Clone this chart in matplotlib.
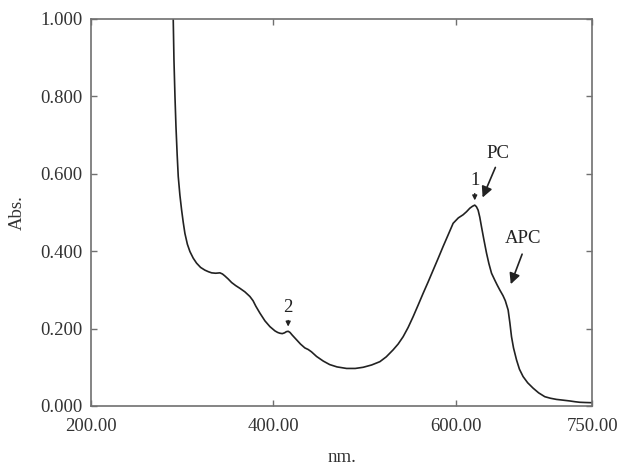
import numpy as np
import matplotlib.pyplot as plt

# ====== DATA ======
wavelength = [290.0, 290.5, 291.3, 292.4, 293.5, 294.8, 296, 297.8, 299.7, 301.5, 303.3,
              306, 308.8, 312.4, 316.1, 320.5, 325.2, 329, 332.6, 337, 341.7, 344.5,
              347.1, 350.8, 354.5, 359, 363.6, 369, 374.5, 378, 381, 385.5, 391, 396.5,
              402, 405, 407.4, 410, 412.5, 414.5, 416.5, 418.5, 421, 425.7, 430, 434.8,
              438.4, 442, 447.6, 455, 462, 470, 480.5, 490, 498.7, 508, 517, 524,
              531.5, 537, 542.5, 548, 553.5, 559, 564.4, 570, 575.4, 581, 586.3, 592,
              597.3, 603, 608.2, 612, 615.6, 618.5, 621, 622.8, 624.7, 626.5, 628.4,
              631, 633.9, 636.5, 639.4, 643, 645.5, 648.4, 652, 654.5, 657.6, 659.5,
              661.3, 663.5, 666.8, 670, 674, 679, 685, 691, 697.8, 704, 710.6, 718,
              725.2, 731, 736, 742, 749, 750]
absorbance = [1.04, 1.0, 0.894, 0.80, 0.722, 0.65, 0.593, 0.545, 0.506, 0.474, 0.446,
              0.418, 0.399, 0.382, 0.369, 0.358, 0.351, 0.347, 0.344, 0.343, 0.344, 0.341,
              0.336, 0.328, 0.319, 0.311, 0.304, 0.295, 0.283, 0.272, 0.258, 0.240, 0.220, 0.205,
              0.194, 0.190, 0.188, 0.187, 0.189, 0.192, 0.193, 0.190, 0.183, 0.171, 0.160, 0.150,
              0.146, 0.140, 0.128, 0.116, 0.107, 0.101, 0.097, 0.097, 0.100, 0.106, 0.1145, 0.127,
              0.145, 0.160, 0.179, 0.203, 0.231, 0.261, 0.291, 0.321, 0.351, 0.382, 0.412, 0.443,
              0.472, 0.486, 0.494, 0.502, 0.511, 0.516, 0.519, 0.515, 0.506, 0.488, 0.463,
              0.430, 0.395, 0.368, 0.343, 0.325, 0.313, 0.300, 0.285, 0.272, 0.248, 0.215,
              0.179, 0.150, 0.119, 0.095, 0.076, 0.060, 0.046, 0.034, 0.024, 0.020, 0.017, 0.015,
              0.013, 0.011, 0.0096, 0.009, 0.0085, 0.0085]

x_ticks = [200, 400, 600, 750]
x_tick_labels = ["200.00", "400.00", "600.00", "750.00"]
y_ticks = [0.0, 0.2, 0.4, 0.6, 0.8, 1.0]
y_tick_labels = ["0.000", "0.200", "0.400", "0.600", "0.800", "1.000"]

# ====== FIGURE ======
plt.rcParams['font.family'] = ['Liberation Serif', 'DejaVu Serif']

fig = plt.figure(figsize=(6.21, 4.68), dpi=100)
ax = fig.add_axes([0.146, 0.1325, 0.808, 0.827])

ax.plot(wavelength, absorbance, color='#222222', linewidth=1.2)

ax.set_xlim(200, 750)
ax.set_ylim(0, 1.0)
ax.set_xticks(x_ticks)
ax.set_xticklabels(x_tick_labels)
ax.set_yticks(y_ticks)
ax.set_yticklabels(y_tick_labels)

for side in ax.spines.values():
    side.set_color('#707070')
    side.set_linewidth(1.2)

ax.tick_params(direction='in', length=4, width=1, color='#707070',
               top=True, right=True, labelsize=13.5, colors='#333333')
ax.tick_params(axis='x', pad=9)
ax.tick_params(axis='y', pad=6)

ax.set_xlabel('nm.', fontsize=13.5, color='#333333', labelpad=10)
ax.set_ylabel('Abs.', fontsize=13.5, color='#333333', labelpad=10)

# ====== ANNOTATIONS ======
arrow_small = dict(arrowstyle='-|>', color='#222222', lw=1, mutation_scale=7)
arrow_big = dict(arrowstyle='-|>', color='#222222', lw=1.2, mutation_scale=16)

ax.annotate('', xy=(416.5, 0.198), xytext=(416.5, 0.228), arrowprops=arrow_small)
ax.text(416.5, 0.232, '2', ha='center', va='bottom', fontsize=13.5, color='#222222')

ax.annotate('', xy=(621, 0.524), xytext=(621, 0.556), arrowprops=arrow_small)
ax.text(621, 0.560, '1', ha='center', va='bottom', fontsize=13.5, color='#222222')

ax.annotate('', xy=(628.4, 0.532), xytext=(644.8, 0.623), arrowprops=arrow_big)
ax.text(646.6, 0.630, 'PC', ha='center', va='bottom', fontsize=13.5, color='#222222')

ax.annotate('', xy=(659.4, 0.308), xytext=(674, 0.399), arrowprops=arrow_big)
ax.text(674, 0.410, 'APC', ha='center', va='bottom', fontsize=13.5, color='#222222')

plt.savefig('out.png', dpi=100)
